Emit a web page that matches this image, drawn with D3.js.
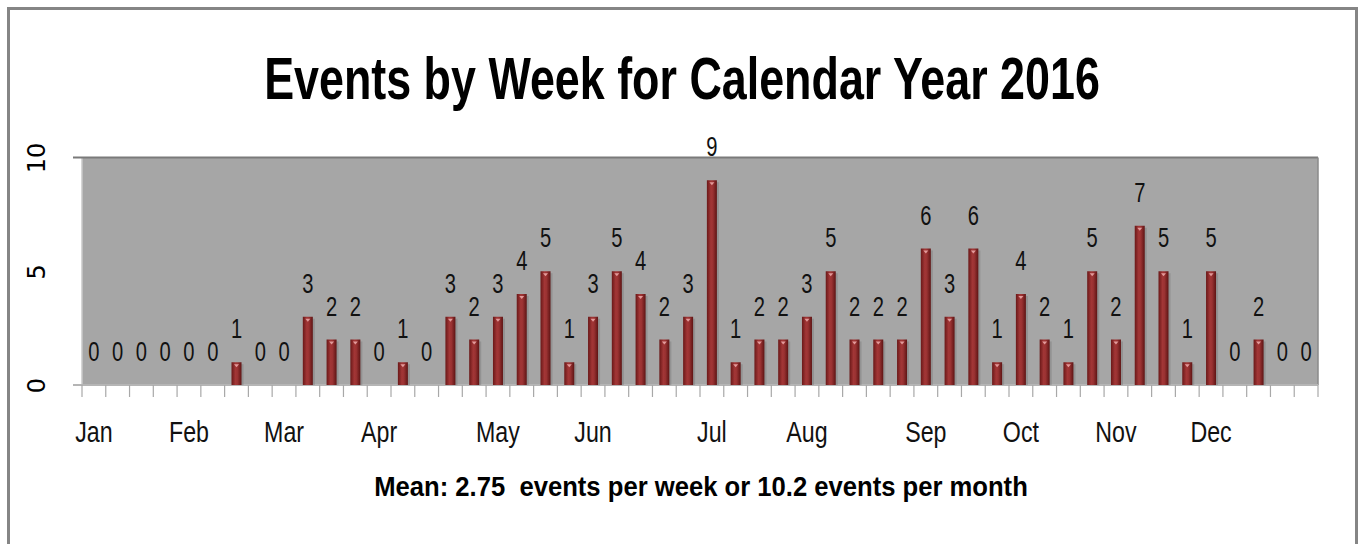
<!DOCTYPE html>
<html>
<head>
<meta charset="utf-8">
<script src="https://cdn.jsdelivr.net/npm/d3@7"></script>
<style>
  body { margin: 0; background: #fff; }
  svg { display: block; }
</style>
</head>
<body>
<div id="chart"></div>
<script>
// weekly event counts, 2016
var weeks = d3.range(1, 53);
var counts = [0,0,0,0,0,0,1,0,0,3,2,2,0,1,0,3,2,3,4,5,1,3,5,4,2,3,9,1,2,2,3,5,2,2,2,6,3,6,1,4,2,1,5,2,7,5,1,5,0,2,0,0];
var weekLabels = ["Jan","","","","Feb","","","","Mar","","","","Apr","","","","","May","","","","Jun","","","","","Jul","","","","Aug","","","","","Sep","","","","Oct","","","","Nov","","","","Dec","","","",""];
var yTicks = [0, 5, 10];
var title = "Events by Week for Calendar Year 2016";
var subtitle = "Mean: 2.75  events per week or 10.2 events per month";

var w = 1359, h = 544;
var margin = {top: 157.5, right: 41, bottom: 159, left: 82};
var width = w - margin.left - margin.right,
    height = h - margin.top - margin.bottom;
var font = "'Liberation Sans', Arial, sans-serif";

var svg = d3.select("#chart")
    .append("svg")
    .attr("width", w)
    .attr("height", h);

var defs = svg.append("defs");
var grad = defs.append("linearGradient")
    .attr("id", "barGrad")
    .attr("x1", "0").attr("x2", "1").attr("y1", "0").attr("y2", "0");
grad.append("stop").attr("offset", "0%").attr("stop-color", "#6a1818");
grad.append("stop").attr("offset", "40%").attr("stop-color", "#a23636");
grad.append("stop").attr("offset", "60%").attr("stop-color", "#9a3232");
grad.append("stop").attr("offset", "100%").attr("stop-color", "#5e1414");

// squeeze a centred text horizontally so it spans the given width
function squeeze(sel, cx, cy, target) {
    var len = sel.node().getComputedTextLength();
    sel.attr("x", 0).attr("y", 0)
        .attr("transform", "translate(" + cx + "," + cy + ") scale(" + (target / len) + ",1)");
}

// outer frame
svg.append("rect")
    .attr("x", 8.5).attr("y", 8.5)
    .attr("width", 1348).attr("height", 560)
    .attr("fill", "none")
    .attr("stroke", "#858585")
    .attr("stroke-width", 3);

var t = svg.append("text")
    .attr("text-anchor", "middle")
    .attr("font-family", font)
    .attr("font-weight", "bold")
    .attr("font-size", 60)
    .attr("fill", "#000")
    .text(title);
squeeze(t, 682, 99, 836);

var g = svg.append("g")
    .attr("transform", "translate(" + margin.left + "," + margin.top + ")");

var x = d3.scaleBand()
    .domain(weeks)
    .range([0, width])
    .padding(0);

var y = d3.scaleLinear()
    .domain([0, 10])
    .range([height, 0]);

// plot area
g.append("rect")
    .attr("x", 0).attr("y", 0)
    .attr("width", width).attr("height", height)
    .attr("fill", "#a6a6a6");
g.append("line")
    .attr("x1", 0).attr("x2", 0)
    .attr("y1", 0).attr("y2", height)
    .attr("stroke", "#c8c8c8").attr("stroke-width", 1.5);
g.append("line")
    .attr("x1", -9).attr("x2", width)
    .attr("y1", y(10)).attr("y2", y(10))
    .attr("stroke", "#7a7a7a").attr("stroke-width", 2);
g.append("line")
    .attr("x1", width).attr("x2", width)
    .attr("y1", 0).attr("y2", height)
    .attr("stroke", "#8a8a8a").attr("stroke-width", 1.5);

// y axis (rotated labels)
var yAxis = g.append("g")
    .call(d3.axisLeft(y).tickValues(yTicks).tickSize(0).tickFormat(d3.format("d")));
yAxis.select(".domain").remove();
yAxis.selectAll("text")
    .attr("font-family", "'DejaVu Sans', sans-serif")
    .attr("font-size", 24)
    .attr("fill", "#000")
    .attr("x", null).attr("dy", null)
    .attr("text-anchor", "middle")
    .attr("transform", "translate(-37,0) rotate(-90)");

// x axis line and week ticks
g.append("line")
    .attr("x1", -9).attr("x2", width)
    .attr("y1", height).attr("y2", height)
    .attr("stroke", "#b5b5b5").attr("stroke-width", 2);

var edges = weeks.map(function(d) { return x(d); }).concat([x(weeks[weeks.length - 1]) + x.step()]);
g.selectAll(".wtick")
    .data(edges)
    .enter()
    .append("line")
    .attr("class", "wtick")
    .attr("x1", function(d) { return d; })
    .attr("x2", function(d) { return d; })
    .attr("y1", height)
    .attr("y2", height + 12)
    .attr("stroke", "#a8a8a8")
    .attr("stroke-width", 1.2);

var xAxis = g.append("g")
    .attr("transform", "translate(0," + height + ")")
    .call(d3.axisBottom(x).tickSize(0).tickFormat(function(d, i) { return weekLabels[i]; }));
xAxis.select(".domain").remove();
xAxis.selectAll("text")
    .attr("font-family", font)
    .attr("font-size", 29)
    .attr("fill", "#111")
    .attr("y", 0)
    .attr("dy", null)
    .attr("transform", "translate(0,57) scale(0.8,1)");

// bars
var barW = 10;
g.selectAll(".shadow")
    .data(counts)
    .enter()
    .append("rect")
    .attr("class", "shadow")
    .attr("x", function(d, i) { return x(weeks[i]) + (x.bandwidth() - barW) / 2 + 2; })
    .attr("y", function(d) { return y(d) + 2; })
    .attr("width", barW)
    .attr("height", function(d) { return d > 0 ? height - y(d) - 2 : 0; })
    .attr("fill", "#7d7d7d")
    .attr("opacity", 0.5);

g.selectAll(".barRect")
    .data(counts)
    .enter()
    .append("rect")
    .attr("class", "barRect")
    .attr("x", function(d, i) { return x(weeks[i]) + (x.bandwidth() - barW) / 2; })
    .attr("y", function(d) { return y(d); })
    .attr("width", barW)
    .attr("height", function(d) { return height - y(d); })
    .attr("fill", "url(#barGrad)");

// little highlight at the top of each bar
g.selectAll(".cap")
    .data(counts)
    .enter()
    .append("path")
    .attr("class", "cap")
    .attr("d", function(d, i) {
        if (d <= 0) return null;
        var cx = x(weeks[i]) + x.bandwidth() / 2, ty = y(d);
        return "M" + (cx - 2.5) + "," + (ty + 2) + "L" + (cx + 2.5) + "," + (ty + 2) + "L" + cx + "," + (ty + 5) + "Z";
    })
    .attr("fill", "#e29a9a");

// value labels
g.selectAll(".lbl")
    .data(counts)
    .enter()
    .append("text")
    .attr("class", "lbl")
    .attr("transform", function(d, i) {
        return "translate(" + (x(weeks[i]) + x.bandwidth() / 2) + "," + (y(d) - 24) + ") scale(0.72,1)";
    })
    .attr("text-anchor", "middle")
    .attr("font-family", font)
    .attr("font-size", 28)
    .attr("fill", "#111")
    .text(function(d) { return d; });

var s = svg.append("text")
    .attr("text-anchor", "middle")
    .attr("font-family", font)
    .attr("font-weight", "bold")
    .attr("font-size", 28)
    .attr("fill", "#000")
    .style("white-space", "pre")
    .text(subtitle);
squeeze(s, 701, 496, 654);
</script>
</body>
</html>
